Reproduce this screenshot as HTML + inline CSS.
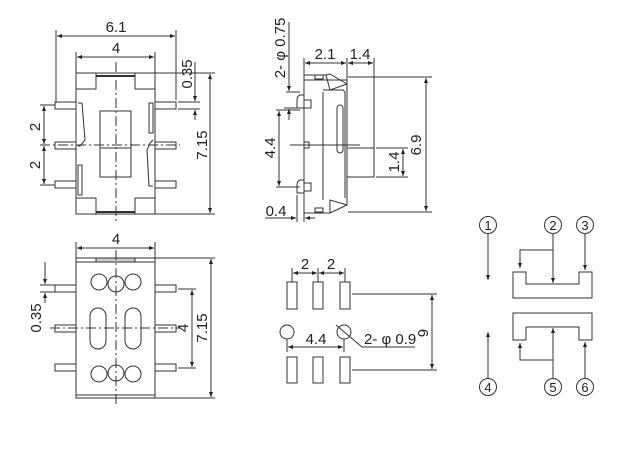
<!DOCTYPE html>
<html><head><meta charset="utf-8"><style>
html,body{margin:0;padding:0;background:#fff;}
svg{display:block}
text{font-family:"Liberation Sans",sans-serif;font-size:15px;fill:#222}
</style></head><body>
<svg width="644" height="453" viewBox="0 0 644 453" xmlns="http://www.w3.org/2000/svg">
<defs>
<marker id="a" viewBox="0 0 10 10" refX="10" refY="5" markerWidth="7" markerHeight="5" orient="auto-start-reverse"><path d="M0,1 L10,5 L0,9z" fill="#222"/></marker>
</defs>
<g stroke="#333" stroke-width="1" fill="none">
<!-- TOP LEFT -->
<line x1="56" y1="30" x2="56" y2="102"/><line x1="176" y1="30" x2="176" y2="100"/>
<line x1="57" y1="36" x2="175" y2="36" marker-start="url(#a)" marker-end="url(#a)"/>
<line x1="76" y1="52" x2="76" y2="73"/><line x1="155" y1="52" x2="155" y2="73"/>
<line x1="77" y1="57" x2="154" y2="57" marker-start="url(#a)" marker-end="url(#a)"/>
<rect x="76" y="73" width="79" height="141"/>
<rect x="76" y="73" width="20" height="16"/><rect x="135" y="73" width="20" height="16"/>
<rect x="76" y="198" width="20" height="16"/><rect x="135" y="198" width="20" height="16"/>
<line x1="96" y1="76" x2="135" y2="76" stroke-width="2"/>
<line x1="96" y1="212" x2="135" y2="212" stroke-width="2"/>
<rect x="55" y="102" width="21" height="7"/><rect x="55" y="142" width="21" height="7"/><rect x="55" y="181" width="21" height="7"/>
<rect x="155" y="102" width="21" height="7"/><rect x="155" y="142" width="21" height="7"/><rect x="155" y="181" width="21" height="7"/>
<path d="M78,103 L82,103 L85,140 L80,146 L78,146"/><rect x="78" y="165" width="4" height="30"/>
<rect x="149" y="103" width="4" height="30"/><path d="M153,140 L150,143 L147,150 L149,186 L153,186"/>
<rect x="100" y="111" width="31" height="66"/><line x1="100" y1="148" x2="131" y2="148"/>
<line x1="116" y1="62" x2="116" y2="222" stroke-dasharray="10,3,2,3"/>
<line x1="40" y1="145" x2="180" y2="145" stroke-dasharray="10,3,2,3"/>
<line x1="40" y1="105" x2="55" y2="105"/><line x1="40" y1="185" x2="55" y2="185"/>
<line x1="44" y1="106" x2="44" y2="144" marker-start="url(#a)" marker-end="url(#a)"/>
<line x1="44" y1="146" x2="44" y2="184" marker-start="url(#a)" marker-end="url(#a)"/>
<line x1="155" y1="73" x2="215" y2="73"/><line x1="155" y1="214" x2="215" y2="214"/>
<line x1="178" y1="102" x2="200" y2="102"/><line x1="178" y1="109" x2="200" y2="109"/>
<line x1="195" y1="62" x2="195" y2="101" marker-end="url(#a)"/><line x1="195" y1="120" x2="195" y2="110" marker-end="url(#a)"/>
<line x1="210" y1="74" x2="210" y2="213" marker-start="url(#a)" marker-end="url(#a)"/>
<!-- TOP RIGHT -->
<line x1="304" y1="58" x2="304" y2="75"/><line x1="347" y1="58" x2="347" y2="148"/><line x1="374" y1="58" x2="374" y2="148"/>
<line x1="305" y1="63" x2="346" y2="63" marker-start="url(#a)" marker-end="url(#a)"/>
<line x1="348" y1="63" x2="373" y2="63" marker-start="url(#a)" marker-end="url(#a)"/>
<path d="M304,75 L326,75 L330,74 L347,84 L347,205 L330,213 L304,213 z"/>
<line x1="304" y1="80" x2="347" y2="80"/>
<path d="M326,75 L330,90 L347,84"/><path d="M330,213 L330,200 L347,205"/>
<rect x="315" y="75" width="8" height="4"/><rect x="315" y="208" width="8" height="4"/>
<path d="M323,92 L323,200"/><path d="M323,90 L343,90 L345,92 L345,198"/>
<rect x="337" y="105" width="6" height="48" rx="3"/>
<rect x="347" y="148" width="27" height="29"/>
<path d="M304,95 L300,95 Q297,96 297,100 L297,108 L304,108"/><rect x="304" y="100" width="7" height="8"/>
<path d="M304,180 L300,180 Q297,181 297,185 L297,193 L304,193"/><rect x="304" y="183" width="7" height="8"/>
<rect x="304" y="142" width="5" height="6"/>
<line x1="290" y1="145" x2="360" y2="145"/>
<line x1="348" y1="77" x2="432" y2="77"/><line x1="348" y1="212" x2="432" y2="212"/>
<line x1="426" y1="78" x2="426" y2="211" marker-start="url(#a)" marker-end="url(#a)"/>
<line x1="376" y1="148" x2="408" y2="148"/><line x1="376" y1="177" x2="408" y2="177"/>
<line x1="403" y1="149" x2="403" y2="176" marker-start="url(#a)" marker-end="url(#a)"/>
<line x1="289" y1="22" x2="289" y2="91" marker-end="url(#a)"/>
<line x1="286" y1="92" x2="300" y2="92"/><line x1="284" y1="108" x2="297" y2="108"/>
<line x1="289" y1="120" x2="289" y2="109" marker-end="url(#a)"/>
<line x1="276" y1="110" x2="300" y2="110"/><line x1="276" y1="187" x2="300" y2="187"/>
<line x1="279" y1="111" x2="279" y2="186" marker-start="url(#a)" marker-end="url(#a)"/>
<line x1="297" y1="195" x2="297" y2="222"/><line x1="304" y1="213" x2="304" y2="222"/>
<line x1="265" y1="218" x2="296" y2="218" marker-end="url(#a)"/><line x1="315" y1="218" x2="305" y2="218" marker-end="url(#a)"/>
<!-- BOTTOM LEFT -->
<line x1="76" y1="242" x2="76" y2="258"/><line x1="155" y1="242" x2="155" y2="258"/>
<line x1="77" y1="248" x2="154" y2="248" marker-start="url(#a)" marker-end="url(#a)"/>
<rect x="76" y="258" width="79" height="140"/>
<line x1="76" y1="262" x2="155" y2="262"/><line x1="76" y1="395" x2="155" y2="395"/>
<rect x="96" y="258" width="39" height="4" fill="#ccc"/>
<rect x="55" y="285" width="21" height="7"/><rect x="55" y="325" width="21" height="7"/><rect x="55" y="364" width="21" height="7"/>
<rect x="155" y="285" width="21" height="7"/><rect x="155" y="325" width="21" height="7"/><rect x="155" y="364" width="21" height="7"/>
<circle cx="99" cy="282" r="8"/><circle cx="116" cy="284" r="8"/><circle cx="133" cy="282" r="8"/>
<circle cx="99" cy="374" r="8"/><circle cx="116" cy="373" r="8"/><circle cx="133" cy="374" r="8"/>
<rect x="90" y="308" width="16" height="41" rx="8"/><rect x="125" y="308" width="16" height="41" rx="8"/>
<line x1="116" y1="250" x2="116" y2="405" stroke-dasharray="10,3,2,3"/>
<line x1="50" y1="328" x2="180" y2="328" stroke-dasharray="10,3,2,3"/>
<line x1="155" y1="258" x2="215" y2="258"/><line x1="155" y1="398" x2="215" y2="398"/>
<line x1="211" y1="259" x2="211" y2="397" marker-start="url(#a)" marker-end="url(#a)"/>
<line x1="178" y1="289" x2="196" y2="289"/><line x1="178" y1="368" x2="196" y2="368"/>
<line x1="192" y1="290" x2="192" y2="367" marker-start="url(#a)" marker-end="url(#a)"/>
<line x1="40" y1="285" x2="55" y2="285"/><line x1="40" y1="292" x2="55" y2="292"/>
<line x1="45" y1="262" x2="45" y2="284" marker-end="url(#a)"/><line x1="45" y1="303" x2="45" y2="293" marker-end="url(#a)"/>
<!-- BOTTOM MIDDLE pads -->
<rect x="287" y="282" width="10" height="27"/><rect x="313" y="282" width="10" height="27"/><rect x="340" y="282" width="10" height="27"/>
<rect x="287" y="357" width="10" height="26"/><rect x="313" y="357" width="10" height="26"/><rect x="340" y="357" width="10" height="26"/>
<line x1="292" y1="268" x2="292" y2="282"/><line x1="318" y1="268" x2="318" y2="282"/><line x1="345" y1="268" x2="345" y2="282"/>
<line x1="293" y1="273" x2="317" y2="273" marker-start="url(#a)" marker-end="url(#a)"/>
<line x1="319" y1="273" x2="344" y2="273" marker-start="url(#a)" marker-end="url(#a)"/>
<circle cx="287" cy="332" r="7"/><circle cx="344" cy="332" r="7"/>
<line x1="287" y1="339" x2="287" y2="352"/><line x1="344" y1="339" x2="344" y2="352"/>
<line x1="288" y1="347" x2="343" y2="347" marker-start="url(#a)" marker-end="url(#a)"/>
<line x1="336" y1="325" x2="362" y2="347"/><line x1="362" y1="347" x2="415" y2="347"/>
<line x1="352" y1="294" x2="437" y2="294"/><line x1="352" y1="370" x2="437" y2="370"/>
<line x1="432" y1="295" x2="432" y2="369" marker-start="url(#a)" marker-end="url(#a)"/>
<!-- SCHEMATIC -->
<circle cx="488" cy="225" r="8.5"/><circle cx="553" cy="225" r="8.5"/><circle cx="585" cy="225" r="8.5"/>
<circle cx="488" cy="387" r="8.5"/><circle cx="553" cy="387" r="8.5"/><circle cx="585" cy="387" r="8.5"/>
<path d="M513,272 L526,272 L526,284 L579,284 L579,272 L592,272 L592,298 L513,298 z"/>
<path d="M513,313 L592,313 L592,340 L579,340 L579,327 L526,327 L526,340 L513,340 z"/>
<line x1="488" y1="234" x2="488" y2="280" marker-end="url(#a)"/>
<line x1="553" y1="234" x2="553" y2="283" marker-end="url(#a)"/>
<path d="M553,250 L520,250 L520,268" marker-end="url(#a)"/>
<line x1="585" y1="234" x2="585" y2="270" marker-end="url(#a)"/>
<line x1="488" y1="378" x2="488" y2="332" marker-end="url(#a)"/>
<line x1="553" y1="378" x2="553" y2="328" marker-end="url(#a)"/>
<path d="M553,360 L520,360 L520,343" marker-end="url(#a)"/>
<line x1="585" y1="378" x2="585" y2="342" marker-end="url(#a)"/>
</g>
<g>
<text x="116" y="32" text-anchor="middle">6.1</text>
<text x="116" y="53" text-anchor="middle">4</text>
<text transform="translate(40,127) rotate(-90)" text-anchor="middle">2</text>
<text transform="translate(40,165) rotate(-90)" text-anchor="middle">2</text>
<text transform="translate(192,74) rotate(-90)" text-anchor="middle">0.35</text>
<text transform="translate(207,145) rotate(-90)" text-anchor="middle">7.15</text>
<text transform="translate(285,48) rotate(-90)" text-anchor="middle">2- φ 0.75</text>
<text x="325" y="59" text-anchor="middle">2.1</text>
<text x="360" y="59" text-anchor="middle">1.4</text>
<text transform="translate(421,145) rotate(-90)" text-anchor="middle">6.9</text>
<text transform="translate(399,162) rotate(-90)" text-anchor="middle">1.4</text>
<text transform="translate(275,148) rotate(-90)" text-anchor="middle">4.4</text>
<text x="276" y="216" text-anchor="middle">0.4</text>
<text x="116" y="244" text-anchor="middle">4</text>
<text transform="translate(41,318) rotate(-90)" text-anchor="middle">0.35</text>
<text transform="translate(188,328) rotate(-90)" text-anchor="middle">4</text>
<text transform="translate(207,328) rotate(-90)" text-anchor="middle">7.15</text>
<text x="305" y="269" text-anchor="middle">2</text>
<text x="331" y="269" text-anchor="middle">2</text>
<text x="316" y="344" text-anchor="middle">4.4</text>
<text x="364" y="344">2- φ 0.9</text>
<text transform="translate(418,333) rotate(90)" text-anchor="middle">6</text>
<text x="488" y="230" text-anchor="middle" style="font-size:13px">1</text>
<text x="553" y="230" text-anchor="middle" style="font-size:13px">2</text>
<text x="585" y="230" text-anchor="middle" style="font-size:13px">3</text>
<text x="488" y="392" text-anchor="middle" style="font-size:13px">4</text>
<text x="553" y="392" text-anchor="middle" style="font-size:13px">5</text>
<text x="585" y="392" text-anchor="middle" style="font-size:13px">6</text>
</g>
</svg>
</body></html>
